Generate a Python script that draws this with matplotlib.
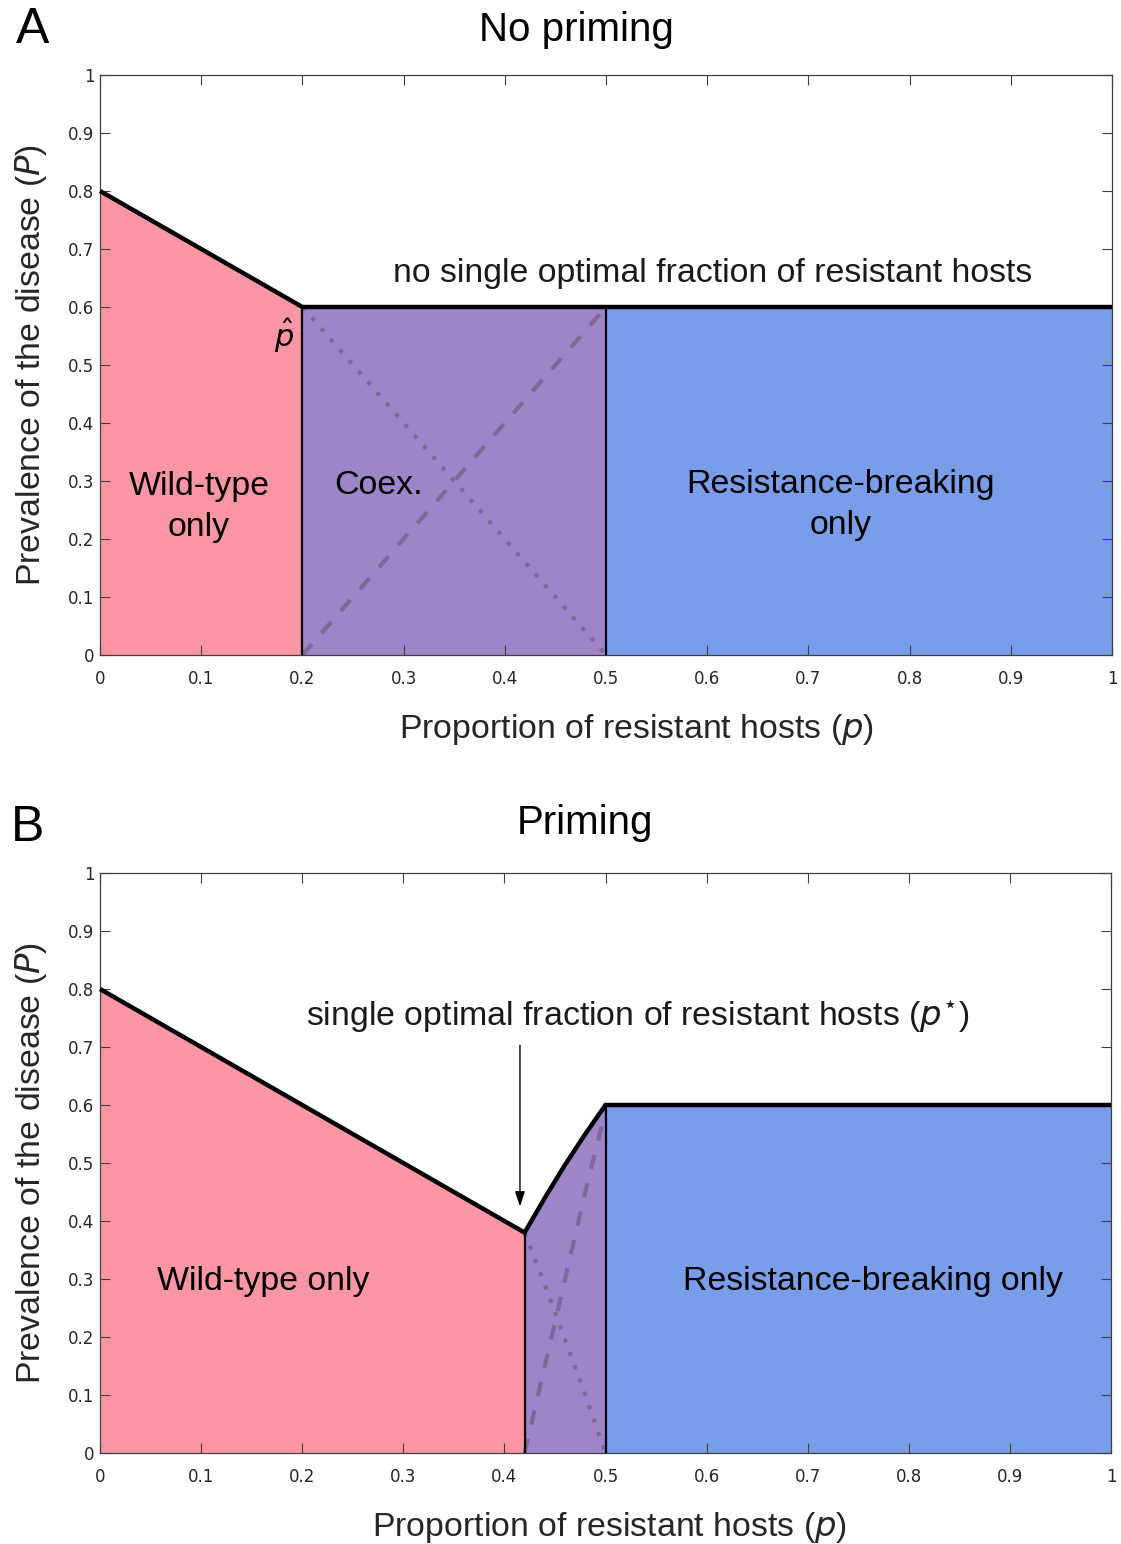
import matplotlib
matplotlib.use("Agg")
import matplotlib.pyplot as plt
import numpy as np

# ---------------- data ----------------
# Panel A (no priming)
a_p_wt = [0.0, 0.2]
a_P_wt = [0.8, 0.6]
a_p_co = [0.2, 0.5]
a_P_co = [0.6, 0.6]
a_p_rb = [0.5, 1.0]
a_P_rb = [0.6, 0.6]
a_dot_p = [0.2, 0.5]
a_dot_P = [0.6, 0.0]
a_dash_p = [0.2, 0.5]
a_dash_P = [0.0, 0.6]
a_bounds = [0.2, 0.5]
a_bound_top = [0.6, 0.6]

# Panel B (priming)
b_p_wt = [0.0, 0.2, 0.42]
b_P_wt = [0.8, 0.6, 0.38]
b_p_co = [0.42, 0.44, 0.46, 0.48, 0.5]
b_P_co = [0.38, 0.44, 0.497, 0.55, 0.6]
b_p_rb = [0.5, 1.0]
b_P_rb = [0.6, 0.6]
b_dot_p = [0.42, 0.44, 0.46, 0.48, 0.5]
b_dot_P = [0.38, 0.29, 0.195, 0.10, 0.0]
b_dash_p = [0.42, 0.44, 0.46, 0.48, 0.5]
b_dash_P = [0.0, 0.15, 0.30, 0.45, 0.59]
b_bounds = [0.42, 0.5]
b_bound_top = [0.38, 0.6]

xticks = [0, 0.1, 0.2, 0.3, 0.4, 0.5, 0.6, 0.7, 0.8, 0.9, 1]
xticklabels = ["0", "0.1", "0.2", "0.3", "0.4", "0.5", "0.6", "0.7", "0.8", "0.9", "1"]
yticks = xticks
yticklabels = xticklabels

# ---------------- style ----------------
PINK = "#FC96A4"
PURPLE = "#9E84C8"
BLUE = "#7A9DEA"
GUIDE = "#7B6A98"
TXT = "Liberation Sans"
FS = 24.4

fig = plt.figure(figsize=(11.21, 15.44), dpi=100)
axA = fig.add_axes([100/1121, 889/1544, 1012/1121, 580/1544])
axB = fig.add_axes([100/1121, 91/1544, 1011/1121, 580/1544])


def style(ax, xlab_x):
    ax.set_xlim(0, 1)
    ax.set_ylim(0, 1)
    ax.set_xticks(xticks)
    ax.set_xticklabels(xticklabels)
    ax.set_yticks(yticks)
    ax.set_yticklabels(yticklabels)
    ax.tick_params(direction="in", length=7, width=0.8, color="#404040",
                   top=True, right=True, labelsize=12, labelcolor="#262626")
    ax.tick_params(axis="x", pad=11)
    ax.tick_params(axis="y", pad=4)
    for lab in ax.get_xticklabels() + ax.get_yticklabels():
        lab.set_family("DejaVu Sans")
    for s in ax.spines.values():
        s.set_color("#404040")
        s.set_linewidth(0.9)
    ax.set_xlabel("Proportion of resistant hosts ($\\it{p}$)", fontsize=FS,
                  family=TXT, color="#262626")
    ax.xaxis.set_label_coords(xlab_x, -0.099)
    ax.set_ylabel("Prevalence of the disease ($\\it{P}$)", fontsize=FS,
                  family=TXT, color="#262626", labelpad=14)


def draw(ax, pw, Pw, pc, Pc, pr, Pr, dp, dP, sp, sP, bounds, btop):
    ax.fill_between(pw, 0, Pw, color=PINK, lw=0, zorder=1)
    ax.fill_between(pc, 0, Pc, color=PURPLE, lw=0, zorder=1)
    ax.fill_between(pr, 0, Pr, color=BLUE, lw=0, zorder=1)
    ax.plot(dp, dP, ls=(0, (1, 2.4)), color=GUIDE, lw=3.0, zorder=2)
    ax.plot(sp, sP, ls=(0, (3.5, 3.5)), color=GUIDE, lw=3.0, zorder=2)
    for b, t in zip(bounds, btop):
        ax.plot([b, b], [0, t], color="black", lw=1.6, zorder=3)
    ax.plot(list(pw) + list(pc[1:]) + list(pr[1:]),
            list(Pw) + list(Pc[1:]) + list(Pr[1:]),
            color="black", lw=3.2, zorder=4, solid_joinstyle="miter",
            solid_capstyle="butt", clip_on=False)


style(axA, 0.53)
style(axB, 0.504)
draw(axA, a_p_wt, a_P_wt, a_p_co, a_P_co, a_p_rb, a_P_rb,
     a_dot_p, a_dot_P, a_dash_p, a_dash_P, a_bounds, a_bound_top)
draw(axB, b_p_wt, b_P_wt, b_p_co, b_P_co, b_p_rb, b_P_rb,
     b_dot_p, b_dot_P, b_dash_p, b_dash_P, b_bounds, b_bound_top)

# panel A texts
axA.text(0.605, 0.657, "no single optimal fraction of resistant hosts",
         fontsize=FS, family=TXT, ha="center", va="center", color="#1a1a1a")
axA.text(0.098, 0.255, "Wild-type\nonly", fontsize=FS, family=TXT,
         ha="center", va="center", linespacing=1.42)
axA.text(0.275, 0.293, "Coex.", fontsize=FS, family=TXT, ha="center", va="center")
axA.text(0.732, 0.258, "Resistance-breaking\nonly", fontsize=FS, family=TXT,
         ha="center", va="center", linespacing=1.42)
axA.text(0.182, 0.55, r"$\hat{p}$", fontsize=22, ha="center", va="center")

# panel B texts
axB.text(0.532, 0.753, r"single optimal fraction of resistant hosts ($\it{p}^{\star}$)",
         fontsize=FS, family=TXT, ha="center", va="center", color="#1a1a1a")
axB.annotate("", xy=(0.4154, 0.425), xytext=(0.4154, 0.703),
             arrowprops=dict(arrowstyle="-|>,head_length=0.9,head_width=0.3",
                             color="black", lw=1.0, shrinkA=0, shrinkB=0))
axB.text(0.161, 0.295, "Wild-type only", fontsize=FS, family=TXT,
         ha="center", va="center")
axB.text(0.765, 0.295, "Resistance-breaking only", fontsize=FS, family=TXT,
         ha="center", va="center")

# titles and panel letters
fig.text(576/1121, 1 - 30/1544, "No priming", fontsize=29, family=TXT,
         ha="center", va="center")
fig.text(585/1121, 1 - 823/1544, "Priming", fontsize=29, family=TXT,
         ha="center", va="center")
fig.text(33/1121, 1 - 30/1544, "A", fontsize=36, family=TXT,
         ha="center", va="center")
fig.text(28/1121, 1 - 828/1544, "B", fontsize=36, family=TXT,
         ha="center", va="center")

fig.savefig("out.png", dpi=100)
